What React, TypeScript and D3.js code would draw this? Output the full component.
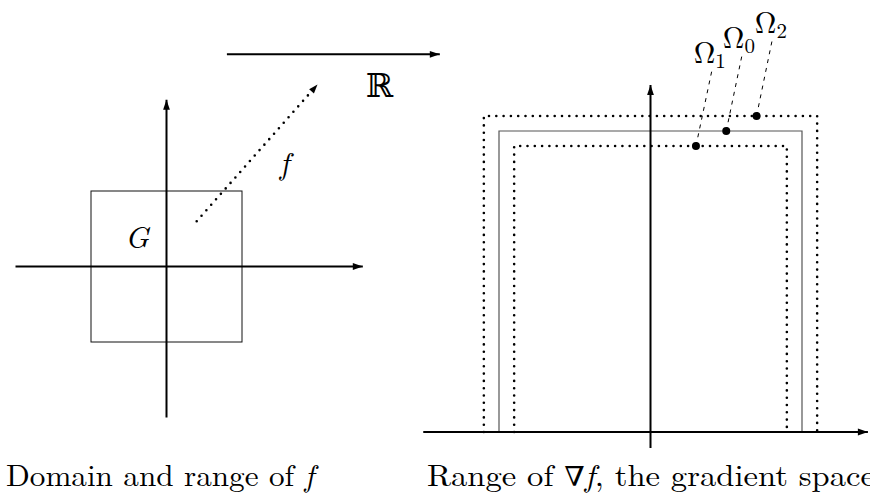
import React from 'react';
import * as d3 from 'd3';

// Left panel: domain G = [-1,1]^2, axes and the map f into R
const leftAxes = [
  { name: 'x', from: [-2.0, 0], to: [2.6, 0] },
  { name: 'y', from: [0, -2.0], to: [0, 2.21] },
];
const squareG = { x0: -1, x1: 1, y0: -1, y1: 1 };
const fArrow = { from: [0.4, 0.6], to: [2.0, 2.41] };
const realLine = { from: [0.8, 2.81], to: [3.62, 2.81] };
const leftLabels = [
  { text: 'G', at: [-0.55, 0.25], italic: true, size: 31, font: 'lm' },
  { text: 'f', at: [1.5, 1.22], italic: true, size: 31, font: 'lm' },
  { text: 'ℝ', at: [2.64, 2.25], italic: false, size: 33, font: 'dv' },
];

// Right panel: range of the gradient, three nested frames
const rightAxes = [
  { name: 'x', from: [-1.5, 0], to: [1.435, 0] },
  { name: 'y', from: [0, -0.053], to: [0, 1.153] },
];
const frames = [
  { name: 'Omega2', half: 1.1, top: 1.05, style: 'dotted' },
  { name: 'Omega0', half: 1.0, top: 1.0, style: 'solid' },
  { name: 'Omega1', half: 0.9, top: 0.95, style: 'dotted' },
];
const omegaMarks = [
  { sub: '1', dot: [0.3, 0.95], end: [0.406, 1.203], label: [0.285, 1.226] },
  { sub: '0', dot: [0.5, 1.0], end: [0.604, 1.252], label: [0.477, 1.276] },
  { sub: '2', dot: [0.7, 1.05], end: [0.802, 1.299], label: [0.688, 1.326] },
];

const captions = [
  { text: 'Domain and range of ', nabla: '', math: 'f', tail: '', x: 6, width: 308 },
  { text: 'Range of ', nabla: '∇', math: 'f', tail: ', the gradient space', x: 427, width: 448 },
];

const W = 870;
const H = 493;
const lm = "'Latin Modern Roman'";
const dv = "'DejaVu Serif'";

const xL = d3.scaleLinear().domain([-1, 1]).range([91, 242]);
const yL = d3.scaleLinear().domain([-1, 1]).range([342, 191]);
const xR = d3.scaleLinear().domain([-1, 1]).range([499, 802]);
const yR = d3.scaleLinear().domain([0, 1]).range([432, 131]);

// filled arrowhead at the end of a segment
function arrowHead(x1: number, y1: number, x2: number, y2: number, len = 10, wid = 3.4) {
  const a = Math.atan2(y2 - y1, x2 - x1);
  const bx = x2 - len * Math.cos(a);
  const by = y2 - len * Math.sin(a);
  const nx = -Math.sin(a) * wid;
  const ny = Math.cos(a) * wid;
  return `${x2},${y2} ${bx + nx},${by + ny} ${bx - nx},${by - ny}`;
}

const App: React.FC = () => {
  const dotted = { strokeDasharray: '0 7.3', strokeLinecap: 'round' as const, strokeWidth: 2.6 };

  return (
    <svg width={W} height={H} style={{ position: 'absolute', left: 0, top: 0, background: '#fff' }}>
      {/* left panel */}
      <rect
        x={xL(squareG.x0)}
        y={yL(squareG.y1)}
        width={xL(squareG.x1) - xL(squareG.x0)}
        height={yL(squareG.y0) - yL(squareG.y1)}
        fill="none"
        stroke="#111"
        strokeWidth={1}
      />
      {leftAxes.map(a => {
        const [x1, y1, x2, y2] = [xL(a.from[0]), yL(a.from[1]), xL(a.to[0]), yL(a.to[1])];
        return (
          <g key={a.name}>
            <line x1={x1} y1={y1} x2={x2} y2={y2} stroke="#000" strokeWidth={2} />
            <polygon points={arrowHead(x1, y1, x2, y2)} fill="#000" />
          </g>
        );
      })}
      {(() => {
        const [x1, y1, x2, y2] = [xL(realLine.from[0]), yL(realLine.from[1]), xL(realLine.to[0]), yL(realLine.to[1])];
        return (
          <g>
            <line x1={x1} y1={y1} x2={x2} y2={y2} stroke="#000" strokeWidth={2} />
            <polygon points={arrowHead(x1, y1, x2, y2)} fill="#000" />
          </g>
        );
      })()}
      {(() => {
        const [x1, y1, x2, y2] = [xL(fArrow.from[0]), yL(fArrow.from[1]), xL(fArrow.to[0]), yL(fArrow.to[1])];
        const a = Math.atan2(y2 - y1, x2 - x1);
        return (
          <g>
            <line x1={x1} y1={y1} x2={x2 - 8 * Math.cos(a)} y2={y2 - 8 * Math.sin(a)} stroke="#000" {...dotted} />
            <polygon points={arrowHead(x1, y1, x2, y2, 9, 3.2)} fill="#000" />
          </g>
        );
      })()}
      {leftLabels.map(l => (
        <text
          key={l.text}
          x={xL(l.at[0])}
          y={yL(l.at[1])}
          fontFamily={l.font === 'dv' ? dv : lm}
          fontStyle={l.italic ? 'italic' : 'normal'}
          fontSize={l.size}
          fill="#000"
        >
          {l.text}
        </text>
      ))}

      {/* right panel */}
      {frames.map(f => {
        const d = `M${xR(-f.half)},${yR(0)} L${xR(-f.half)},${yR(f.top)} L${xR(f.half)},${yR(f.top)} L${xR(f.half)},${yR(0)}`;
        return f.style === 'dotted' ? (
          <path key={f.name} d={d} fill="none" stroke="#000" {...dotted} />
        ) : (
          <path key={f.name} d={d} fill="none" stroke="#555" strokeWidth={1.2} />
        );
      })}
      {rightAxes.map(a => {
        const [x1, y1, x2, y2] = [xR(a.from[0]), yR(a.from[1]), xR(a.to[0]), yR(a.to[1])];
        return (
          <g key={a.name}>
            <line x1={x1} y1={y1} x2={x2} y2={y2} stroke="#000" strokeWidth={2} />
            <polygon points={arrowHead(x1, y1, x2, y2)} fill="#000" />
          </g>
        );
      })}
      {omegaMarks.map(m => (
        <g key={m.sub}>
          <line
            x1={xR(m.dot[0])}
            y1={yR(m.dot[1])}
            x2={xR(m.end[0])}
            y2={yR(m.end[1])}
            stroke="#000"
            strokeWidth={1}
            strokeDasharray="4 5"
          />
          <circle cx={xR(m.dot[0])} cy={yR(m.dot[1])} r={4} fill="#000" />
          <text x={xR(m.label[0])} y={yR(m.label[1])} fontFamily={lm} fontSize={30} fill="#000">
            Ω
            <tspan fontSize={21} dy={5}>{m.sub}</tspan>
          </text>
        </g>
      ))}

      {/* captions */}
      {captions.map(c => (
        <text
          key={c.x}
          x={c.x}
          y={486}
          fontFamily={lm}
          fontSize={30}
          fill="#000"
          textLength={c.width}
          lengthAdjust="spacingAndGlyphs"
        >
          {c.text}
          {c.nabla ? <tspan fontFamily={dv} fontSize={27}>{c.nabla}</tspan> : null}
          <tspan fontStyle="italic">{c.math}</tspan>
          {c.tail}
        </text>
      ))}
    </svg>
  );
};

export default App;
